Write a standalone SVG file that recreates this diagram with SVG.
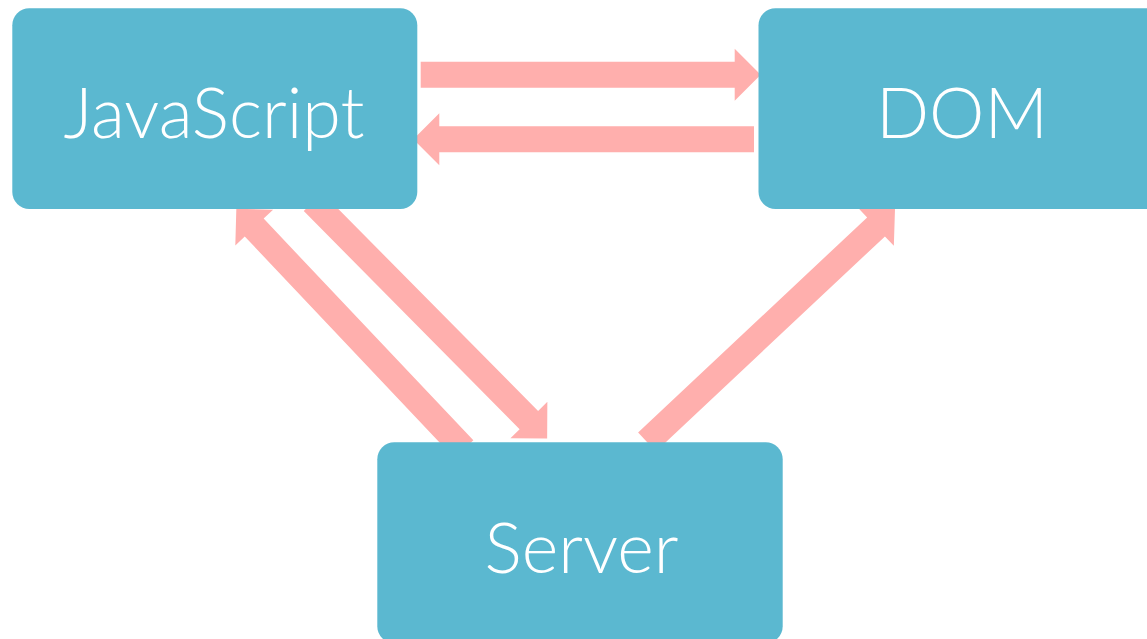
<svg xmlns="http://www.w3.org/2000/svg" width="1147" height="639" viewBox="0 0 1147 639">
<style>
.arrow{fill:#FFAFAD;}
.box{fill:#5BB8D0;}
.label{fill:#ffffff;font-family:Lato,"Open Sans","Liberation Sans",sans-serif;font-weight:300;font-size:70px;text-anchor:middle;}
</style>
<rect width="1147" height="639" fill="#ffffff"/>
<g id="connectors">
<polygon class="arrow" transform="translate(420.7,74.7)" points="0,-13 314,-13 314,-26 340,0 314,26 314,13 0,13"/>
<polygon class="arrow" transform="translate(754,139.3) rotate(180)" points="0,-13 314.7,-13 314.7,-26 340.7,0 314.7,26 314.7,13 0,13"/>
<polygon class="arrow" transform="translate(463.9,449.3) rotate(-133.4)" points="0,-13 305.2,-13 305.2,-26 331.2,0 305.2,26 305.2,13 0,13"/>
<polygon class="arrow" transform="translate(313,201.9) rotate(45.3)" points="0,-13 306.9,-13 306.9,-26 332.9,0 306.9,26 306.9,13 0,13"/>
<polygon class="arrow" transform="translate(647,442) rotate(-43.2)" points="0,-13 314.2,-13 314.2,-26 340.2,0 314.2,26 314.2,13 0,13"/>
</g>
<g id="javascript">
<rect class="box" x="12.3" y="8.3" width="405" height="200.7" rx="17" ry="17"/>
<text class="label" x="214" y="138">JavaScript</text>
</g>
<g id="dom">
<rect class="box" x="758.5" y="8.3" width="405" height="200.7" rx="17" ry="17"/>
<text class="label" x="962" y="138">DOM</text>
</g>
<g id="server">
<rect class="box" x="377.3" y="442.3" width="405.4" height="201" rx="17" ry="17"/>
<text class="label" x="581.5" y="573">Server</text>
</g>
</svg>
